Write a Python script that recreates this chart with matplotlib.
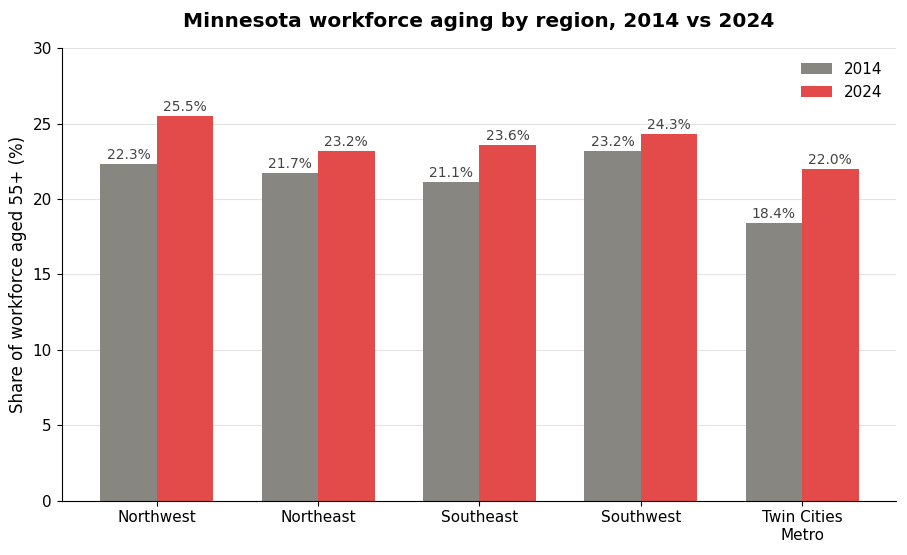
import numpy as np
import matplotlib
matplotlib.use("Agg")
import matplotlib.pyplot as plt

regions = ["Northwest", "Northeast", "Southeast", "Southwest", "Twin Cities\nMetro"]
share_2014 = [22.3, 21.7, 21.1, 23.2, 18.4]
share_2024 = [25.5, 23.2, 23.6, 24.3, 22.0]

fig, ax = plt.subplots(figsize=(9.07, 5.55), dpi=100)

x = np.arange(len(regions))
w = 0.35
b1 = ax.bar(x - w/2, share_2014, w, color="#878680", label="2014", zorder=2)
b2 = ax.bar(x + w/2, share_2024, w, color="#e34a4a", label="2024", zorder=2)

for bars in (b1, b2):
    for b in bars:
        ax.text(b.get_x() + b.get_width()/2, b.get_height() + 0.15,
                f"{b.get_height():.1f}%", ha="center", va="bottom",
                fontsize=10, color="#444444")

ax.set_xticks(x)
ax.set_xticklabels(regions, fontsize=11)
ax.set_ylim(0, 30)
ax.set_yticks(range(0, 31, 5))
ax.tick_params(axis="y", labelsize=11)
ax.set_ylabel("Share of workforce aged 55+ (%)", fontsize=12)
ax.set_title("Minnesota workforce aging by region, 2014 vs 2024",
             fontsize=14.5, fontweight="bold", pad=15)
ax.yaxis.grid(True, color="#e3e3e3", linewidth=0.8, zorder=0)
ax.set_axisbelow(True)
ax.spines["top"].set_visible(False)
ax.spines["right"].set_visible(False)
ax.set_xlim(-0.589, 4.583)
ax.legend(frameon=False, fontsize=11, loc="upper right")

plt.subplots_adjust(left=0.068, right=0.988, top=0.913, bottom=0.098)
plt.savefig("out.png")
